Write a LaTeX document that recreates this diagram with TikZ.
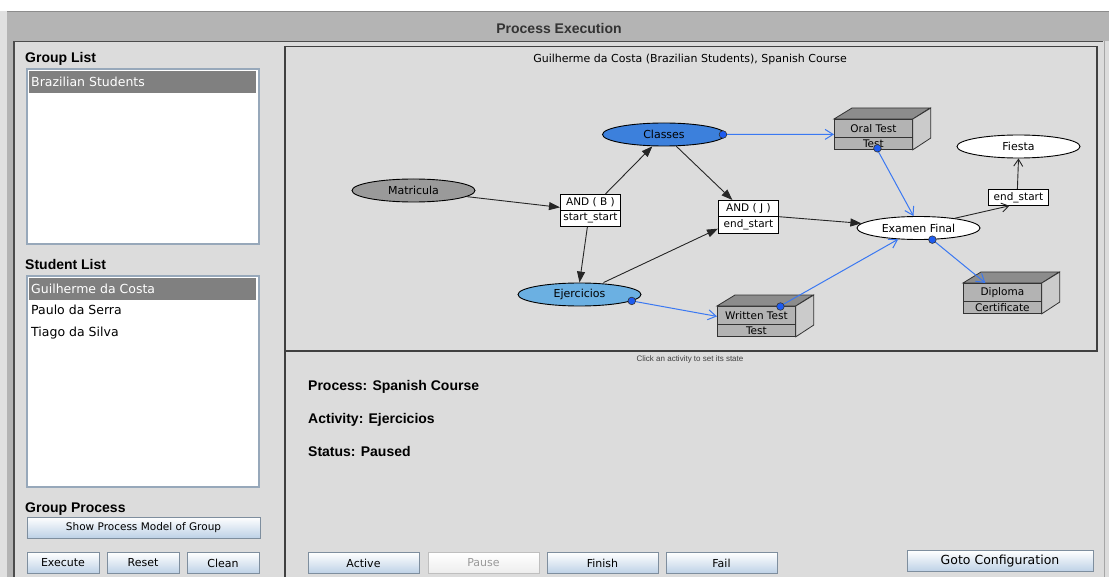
\documentclass[tikz,border=0pt]{standalone}
\usepackage{fontspec}
\setmainfont{DejaVu Sans}
\newfontfamily\uifont{Liberation Sans}
\usetikzlibrary{shapes.geometric,shapes.multipart,arrows.meta}

\definecolor{panelgray}{HTML}{DCDCDC}
\definecolor{titlegray}{HTML}{B4B4B4}
\definecolor{selgray}{HTML}{808080}
\definecolor{listborder}{HTML}{97A8BA}
\definecolor{btnborder}{HTML}{7E8E9E}
\definecolor{btnblue}{HTML}{BDD1E6}
\definecolor{classblue}{HTML}{3C80DC}
\definecolor{exerblue}{HTML}{6BB0E2}
\definecolor{matrgray}{HTML}{9A9A9A}
\definecolor{edgeblue}{HTML}{3A78F2}
\definecolor{dotblue}{HTML}{1E5CF0}
\definecolor{frontgray}{HTML}{B3B3B3}
\definecolor{topgray}{HTML}{8C8C8C}
\definecolor{sidegray}{HTML}{CBCBCB}

\newcommand\pxs[1]{\fontsize{#1bp}{#1bp}\selectfont}

\tikzset{
  heading/.style={font=\uifont\bfseries\pxs{14}, anchor=base west, inner sep=0pt, text=black},
  listitem/.style={font=\pxs{12.5}, anchor=base west, inner sep=0pt},
  uibutton/.style={draw=btnborder, line width=0.8bp, top color=white, bottom color=btnblue,
    minimum height=21bp, inner sep=0pt, font=\pxs{11}},
  offbutton/.style={uibutton, top color=white, bottom color=black!7, draw=black!25, text=black!40},
  activity/.style={ellipse, draw=black, line width=0.9bp, minimum width=123bp,
    minimum height=23bp, inner sep=0pt, font=\pxs{11}},
  gate/.style={rectangle split, rectangle split parts=2, draw=black, fill=white,
    line width=0.8bp, inner xsep=2bp, inner ysep=2.5bp, text height=8bp, text depth=2.5bp,
    minimum width=60bp, font=\pxs{10.5}, anchor=north west},
  endgate/.style={draw=black, fill=white, line width=0.8bp, minimum width=60bp,
    minimum height=16bp, inner sep=0pt, font=\pxs{10.5}, anchor=north west},
  artifact/.style={draw=black!80, fill=frontgray, line width=0.8bp, minimum width=78bp,
    minimum height=30bp, inner sep=0pt, anchor=north west},
  topface/.style={draw=black!80, fill=topgray, line width=0.8bp},
  sideface/.style={draw=black!80, fill=sidegray, line width=0.8bp},
  boxtext/.style={font=\pxs{10.5}, inner sep=0pt},
  blk/.style={draw=black!85, line width=0.9bp, -{Triangle[length=11bp,width=8bp]}},
  blkopen/.style={draw=black!85, line width=0.9bp, -{Straight Barb[length=7bp,width=9bp]}},
  blueedge/.style={draw=edgeblue, line width=1bp, -{Straight Barb[length=8bp,width=10bp]}},
  port/.style={fill=dotblue, draw=black!80, line width=0.6bp},
}

\begin{document}
\begin{tikzpicture}[x=1bp,y=-1bp]
\useasboundingbox (0,0) rectangle (1109,577);
\fill[white] (0,0) rectangle (1109,577);
\fill[black!12] (0,11) rectangle (7,577);

% window title bar
\fill[titlegray] (7,11) rectangle (1109,577);
\draw[black!45, line width=1bp] (7,11.5) -- (1109,11.5);
\node[font=\uifont\bfseries\pxs{14}, text=black!80, inner sep=0pt, anchor=base] (wintitle) at (559,34) {Process Execution};

% content panel
\fill[panelgray] (14,41) rectangle (1109,577);
\draw[black!70, line width=1.2bp] (14,577) -- (14,41.5) -- (1103,41.5);
\draw[black!35, line width=1bp] (1104,41) -- (1104,577);

% ---------- left column ----------
\node[heading] (grouphead) at (25,63) {Group List};
\draw[listborder, fill=white, line width=1.2bp] (27,69) rectangle (259,244);
\fill[selgray] (29,71) rectangle (256,93);
\node[listitem, text=white] (grp1) at (31,86.5) {Brazilian Students};

\node[heading] (studhead) at (25,270) {Student List};
\draw[listborder, fill=white, line width=1.2bp] (27,276) rectangle (259,487);
\fill[selgray] (29,278) rectangle (256,300);
\node[listitem, text=white] (stu1) at (31,293.5) {Guilherme da Costa};
\node[listitem] (stu2) at (31,315) {Paulo da Serra};
\node[listitem] (stu3) at (31,336) {Tiago da Silva};

\node[heading] (prochead) at (25,512) {Group Process};
\node[uibutton, minimum width=233bp, font=\pxs{10.5}] (showmodel) at (143.5,527.5) {Show Process Model of Group};
\node[uibutton, minimum width=72bp] (execute) at (63,563) {Execute};
\node[uibutton, minimum width=72bp] (reset) at (143,563) {Reset};
\node[uibutton, minimum width=72bp] (clean) at (223,563) {Clean};

% ---------- process graph ----------
\draw[black!75, line width=1.2bp] (285,46.5) rectangle (1097,351);
\draw[black!75, line width=1.2bp] (285,351) -- (285,577);
\node[font=\pxs{11}, inner sep=0pt, anchor=base] (graphtitle) at (690,63) {Guilherme da Costa (Brazilian Students), Spanish Course};

% activities
\node[activity, fill=matrgray] (matr) at (413.5,190.5) {Matricula};
\node[activity, fill=classblue] (classes) at (664,134.5) {Classes};
\node[activity, fill=exerblue] (ejer) at (579.5,294.5) {Ejercicios};
\node[activity, fill=white] (exam) at (918.5,228) {Examen Final};
\node[activity, fill=white] (fiesta) at (1018.5,146.5) {Fiesta};

% gates
\node[gate] (andb) at (560,194) {AND ( B )\nodepart{two}start\_start};
\node[gate] (andj) at (718,200) {AND ( J )\nodepart{two}end\_start};
\node[endgate] (endstart) at (988,189) {end\_start};

% artifacts drawn as boxes
\node[artifact] (oral) at (834,119) {};
\filldraw[topface] (oral.north west) -- ++(18,-11) -- ++(78,0) -- (oral.north east) -- cycle;
\filldraw[sideface] (oral.north east) -- ++(18,-11) -- ++(0,30) -- (oral.south east) -- cycle;
\draw[black!80, line width=0.8bp] ([yshift=-18bp]oral.north west) -- ([yshift=-18bp]oral.north east);
\node[boxtext] (oraltop) at ([yshift=-9.5bp]oral.north) {Oral Test};
\node[boxtext] (oralbot) at ([yshift=6bp]oral.south) {Test};

\node[artifact] (written) at (717,306) {};
\filldraw[topface] (written.north west) -- ++(18,-11) -- ++(78,0) -- (written.north east) -- cycle;
\filldraw[sideface] (written.north east) -- ++(18,-11) -- ++(0,30) -- (written.south east) -- cycle;
\draw[black!80, line width=0.8bp] ([yshift=-18bp]written.north west) -- ([yshift=-18bp]written.north east);
\node[boxtext] (writtentop) at ([yshift=-9.5bp]written.north) {Written Test};
\node[boxtext] (writtenbot) at ([yshift=6bp]written.south) {Test};

\node[artifact] (diploma) at (963,283) {};
\filldraw[topface] (diploma.north west) -- ++(18,-11) -- ++(78,0) -- (diploma.north east) -- cycle;
\filldraw[sideface] (diploma.north east) -- ++(18,-11) -- ++(0,30) -- (diploma.south east) -- cycle;
\draw[black!80, line width=0.8bp] ([yshift=-18bp]diploma.north west) -- ([yshift=-18bp]diploma.north east);
\node[boxtext] (diplomatop) at ([yshift=-9.5bp]diploma.north) {Diploma};
\node[boxtext] (diplomabot) at ([yshift=6bp]diploma.south) {Certificate};

% control flow
\draw[blk] (matr) -- ([yshift=3bp]andb.west);
\draw[blk] ([xshift=15bp]andb.north) -- (classes);
\draw[blk] ([xshift=-3bp]andb.south) -- (ejer.north);
\draw[blk] (classes) -- ([xshift=-16bp]andj.north);
\draw[blk] ([xshift=24bp]ejer.north) -- ([yshift=-12bp]andj.west);
\draw[blk] (andj.east) -- (exam);
\draw[blkopen] (exam.15) -- ([xshift=-9bp]endstart.south);
\draw[blkopen] ([xshift=-1bp]endstart.north) -- (fiesta.south);

% data flow
\draw[blueedge] (classes.east) -- (oral.west);
\draw[blueedge] ([xshift=4bp]oral.south) -- ([xshift=-5bp]exam.north);
\draw[blueedge] (ejer.-7) -- ([yshift=5bp]written.west);
\draw[blueedge] ([xshift=24bp]written.north) -- (exam.209);
\draw[blueedge] (exam.-40) -- ([xshift=-17bp]diploma.north);
\fill[port] ([xshift=-3bp]classes.east) circle (3.8bp);
\fill[port] ([xshift=4bp,yshift=1.5bp]oral.south) circle (3.8bp);
\fill[port] (ejer.-7) circle (3.8bp);
\fill[port] ([xshift=24bp,yshift=-0.5bp]written.north) circle (3.8bp);
\fill[port] (exam.-40) circle (3.8bp);

% ---------- status area ----------
\node[font=\uifont\pxs{8}, text=black!75, inner sep=0pt] (hint) at (690,359) {Click an activity to set its state};
\node[heading] (procline) at (308,390) {Process: Spanish Course};
\node[heading] (actline) at (308,423) {Activity: Ejercicios};
\node[heading] (statline) at (308,456) {Status: Paused};

\node[uibutton, minimum width=111bp] (active) at (363.5,563) {Active};
\node[offbutton, minimum width=111bp] (pause) at (483.5,563) {Pause};
\node[uibutton, minimum width=111bp] (finish) at (602.5,563) {Finish};
\node[uibutton, minimum width=111bp] (fail) at (721.5,563) {Fail};
\node[uibutton, minimum width=186bp, font=\pxs{12.5}] (gotoconf) at (1000,561) {Goto Configuration};
\end{tikzpicture}
\end{document}
